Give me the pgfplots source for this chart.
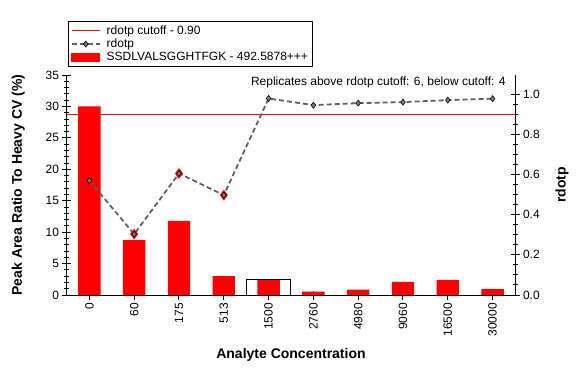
\documentclass[border=0pt]{standalone}
\usepackage{fontspec}
\setmainfont{Liberation Sans}
\usepackage{pgfplots}
\pgfplotsset{compat=1.18}
\definecolor{lgray}{RGB}{96,96,96}
\begin{document}
\begin{tikzpicture}[font=\fontsize{12}{14}\selectfont]
\useasboundingbox (0,0) rectangle (582pt,376pt);
\begin{axis}[
  at={(67pt,81pt)}, anchor=south west, scale only axis, width=448pt, height=220pt,
  xmin=-0.5, xmax=9.5, ymin=0, ymax=35,
  axis x line*=bottom, axis y line*=left,
  axis line style={-, line width=1pt},
  xtick={0,...,9},
  xticklabels={0,60,175,513,1500,2760,4980,9060,16500,30000},
  xticklabel style={rotate=90, anchor=east},
  ytick={0,5,...,35}, minor y tick num=4,
  tick align=center, major tick length=9pt, minor tick length=5pt,
  tick style={black, line width=1pt},
  /pgf/number format/assume math mode=true,
  xlabel={\bfseries\fontsize{14}{16}\selectfont Analyte Concentration},
  ylabel={\bfseries\fontsize{14}{16}\selectfont Peak Area Ratio To Heavy CV (\%)},
  xlabel style={at={(axis description cs:0.5,-0.273)}, anchor=center},
  ylabel style={at={(axis description cs:-0.109,0.5)}, anchor=center},
]
\addplot[ybar, bar width=0.5, bar shift=0pt, fill=red, draw=none] coordinates {
 (0,30.0) (1,8.75) (2,11.8) (3,3.0) (4,2.4) (5,0.53) (6,0.85) (7,2.1) (8,2.4) (9,0.95)};
\addplot[ybar, bar width=1, bar shift=0pt, fill=none, draw=black, line width=1pt] coordinates {(4,2.4)};
\end{axis}
\begin{axis}[
  at={(67pt,81pt)}, anchor=south west, scale only axis, width=448pt, height=220pt,
  xmin=-0.5, xmax=9.5, ymin=0, ymax=1.095,
  axis x line=none, axis y line*=right,
  axis line style={-, line width=1pt},
  ytick={0,0.2,0.4,0.6,0.8,1.0}, minor y tick num=3,
  yticklabel style={/pgf/number format/.cd, fixed, fixed zerofill, precision=1},
  tick align=center, major tick length=9pt, minor tick length=5pt,
  tick style={black, line width=1pt},
  /pgf/number format/assume math mode=true,
  ylabel={\bfseries\fontsize{14}{16}\selectfont rdotp},
  ylabel style={at={(axis description cs:1.105,0.5)}, anchor=center},
  legend style={at={(axis description cs:0.002,1.036)}, anchor=south west,
    draw=black, line width=1pt, font=\fontsize{12}{14}\selectfont,
    row sep=-1pt, inner sep=2.5pt, column sep=4pt},
  legend cell align=left,
  legend image code/.code={\draw[mark repeat=2,mark phase=2,#1] plot coordinates {(0pt,0pt)(14pt,0pt)(28pt,0pt)};},
]
\addplot[red, line width=1pt] coordinates {(-0.5,0.9) (9.5,0.9)};
\addlegendentry{rdotp cutoff - 0.90}
\addplot[only marks, mark=diamond*, mark size=5pt, red, forget plot] coordinates {
 (0,0.569) (1,0.303) (2,0.605) (3,0.497)};
\addplot[lgray, line width=1.8pt, dash pattern=on 5pt off 3pt, mark=diamond*,
  mark options={solid, fill=gray, draw=black, line width=0.6pt}, mark size=3pt] coordinates {
 (0,0.569) (1,0.303) (2,0.605) (3,0.497) (4,0.978) (5,0.945) (6,0.955) (7,0.96) (8,0.97) (9,0.977)};
\addlegendentry{rdotp}
\addlegendimage{legend image code/.code={\fill[red] (0pt,-4pt) rectangle (28pt,4pt);}}
\addlegendentry{SSDLVALSGGHTFGK - 492.5878+++}
\node[anchor=east] at (axis description cs:0.987,0.968) {Replicates above rdotp cutoff: 6, below cutoff: 4};
\end{axis}
\end{tikzpicture}
\end{document}
